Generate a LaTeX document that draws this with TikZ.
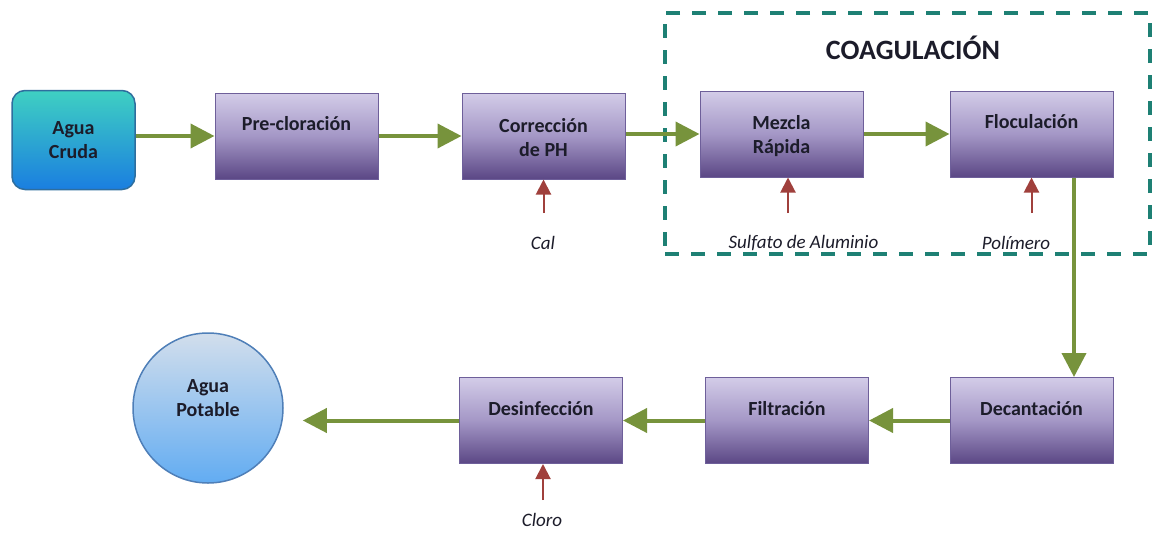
\documentclass[tikz,border=0pt]{standalone}
\usepackage{fontspec}
\setmainfont{Carlito}
\usetikzlibrary{arrows.meta,calc}
\definecolor{grn}{HTML}{77933C}
\definecolor{redar}{HTML}{A0403C}
\definecolor{dashc}{HTML}{1E8074}
\definecolor{boxtop}{HTML}{D3CCE8}
\definecolor{boxmid}{HTML}{A497C6}
\definecolor{boxbot}{HTML}{5B4785}
\definecolor{boxline}{HTML}{6E5F9A}
\definecolor{txt}{HTML}{1C1C2A}
\definecolor{crudatop}{HTML}{3FD0C2}
\definecolor{crudabot}{HTML}{1A7EE0}
\definecolor{crudaline}{HTML}{2E6E9E}
\definecolor{pottop}{HTML}{D2DEEC}
\definecolor{potbot}{HTML}{62ACF2}
\definecolor{potline}{HTML}{4F7FB8}
\begin{document}
\begin{tikzpicture}[x=1pt,y=-1pt,
  procbox/.style={draw=boxline, line width=1pt, top color=boxtop, bottom color=boxbot, middle color=boxmid,
    minimum width=163pt, minimum height=86pt, inner sep=0pt},
  boxtxt/.style={font=\fontsize{20}{24}\selectfont\bfseries, text=txt, align=center, inner sep=0pt},
  lbl/.style={font=\fontsize{19}{22}\selectfont\itshape, text=txt, inner sep=0pt},
  grnarrow/.style={draw=grn, line width=4pt, -{Triangle[length=24pt,width=24pt]}},
  redarrow/.style={draw=redar, line width=2pt, -{Triangle[length=15pt,width=15pt]}},
  coagbox/.style={draw=dashc, line width=3.5pt, dash pattern=on 14pt off 12pt, minimum width=485pt, minimum height=241pt, inner sep=0pt}
]
\useasboundingbox (0,0) rectangle (1153,538);

% coagulation frame
\node[coagbox] (coag) at (907.5,133.5) {};
\node[font=\fontsize{28}{31}\selectfont\bfseries, text=txt, inner sep=0pt] (coagt) at (913,48) {COAGULACIÓN};

% nodes
\node[draw=crudaline, line width=1.5pt, rounded corners=13pt, top color=crudatop, bottom color=crudabot,
  minimum width=123pt, minimum height=99pt, inner sep=0pt] (cruda) at (73.5,140) {};
\node[boxtxt] (crudat) at (cruda.center) {Agua\\Cruda};

\node[procbox] (pre) at (296.5,136) {};
\node[boxtxt] (pret) at ($(pre.center)+(0,-12)$) {Pre-cloración};

\node[procbox] (corr) at (543.5,136) {};
\node[boxtxt] (corrt) at ($(corr.center)+(0,2)$) {Corrección\\de PH};

\node[procbox] (mez) at (781.5,134) {};
\node[boxtxt] (mezt) at ($(mez.center)+(0,2)$) {Mezcla\\Rápida};

\node[procbox] (floc) at (1031.5,134) {};
\node[boxtxt] (floct) at ($(floc.center)+(0,-12)$) {Floculación};

\node[procbox] (dec) at (1031.5,420.5) {};
\node[boxtxt] (dect) at ($(dec.center)+(0,-12)$) {Decantación};

\node[procbox] (filt) at (787,420.5) {};
\node[boxtxt] (filtt) at ($(filt.center)+(0,-12)$) {Filtración};

\node[procbox] (des) at (541,420.5) {};
\node[boxtxt] (dest) at ($(des.center)+(0,-12)$) {Desinfección};

\node[circle, draw=potline, line width=1.5pt, top color=pottop, bottom color=potbot,
  minimum size=150pt, inner sep=0pt] (pot) at (208,408) {};
\node[boxtxt] (pott) at ($(pot.center)+(0,-10)$) {Agua\\Potable};

% main flow
\draw[grnarrow] (cruda.east |- pre.west) -- (pre.west);
\draw[grnarrow] (pre.east) -- (corr.west);
\draw[grnarrow] (corr.east |- mez.west) -- (mez.west);
\draw[grnarrow] (mez.east) -- (floc.west);
\draw[grnarrow] ([xshift=42.5pt]floc.south) -- ([xshift=42.5pt]dec.north);
\draw[grnarrow] (dec.west) -- (filt.east);
\draw[grnarrow] (filt.west) -- (des.east);
\draw[grnarrow, shorten >=19pt] (des.west) -- (des.west -| pot.east);

% additives
\coordinate (calS) at (543.5,213);
\coordinate (mezS) at (788,213);
\coordinate (flocS) at (1031.5,213);
\coordinate (desS) at (543,500);
\draw[redarrow] (calS) -- (calS |- corr.south);
\draw[redarrow] (mezS) -- (mezS |- mez.south);
\draw[redarrow] (flocS) -- (flocS |- floc.south);
\draw[redarrow] (desS) -- (desS |- des.south);

\node[lbl] (cal) at (543,243) {Cal};
\node[lbl] (sulf) at (803.5,243) {Sulfato de Aluminio};
\node[lbl] (pol) at (1016,243) {Polímero};
\node[lbl] (clo) at (542,520) {Cloro};
\end{tikzpicture}
\end{document}
